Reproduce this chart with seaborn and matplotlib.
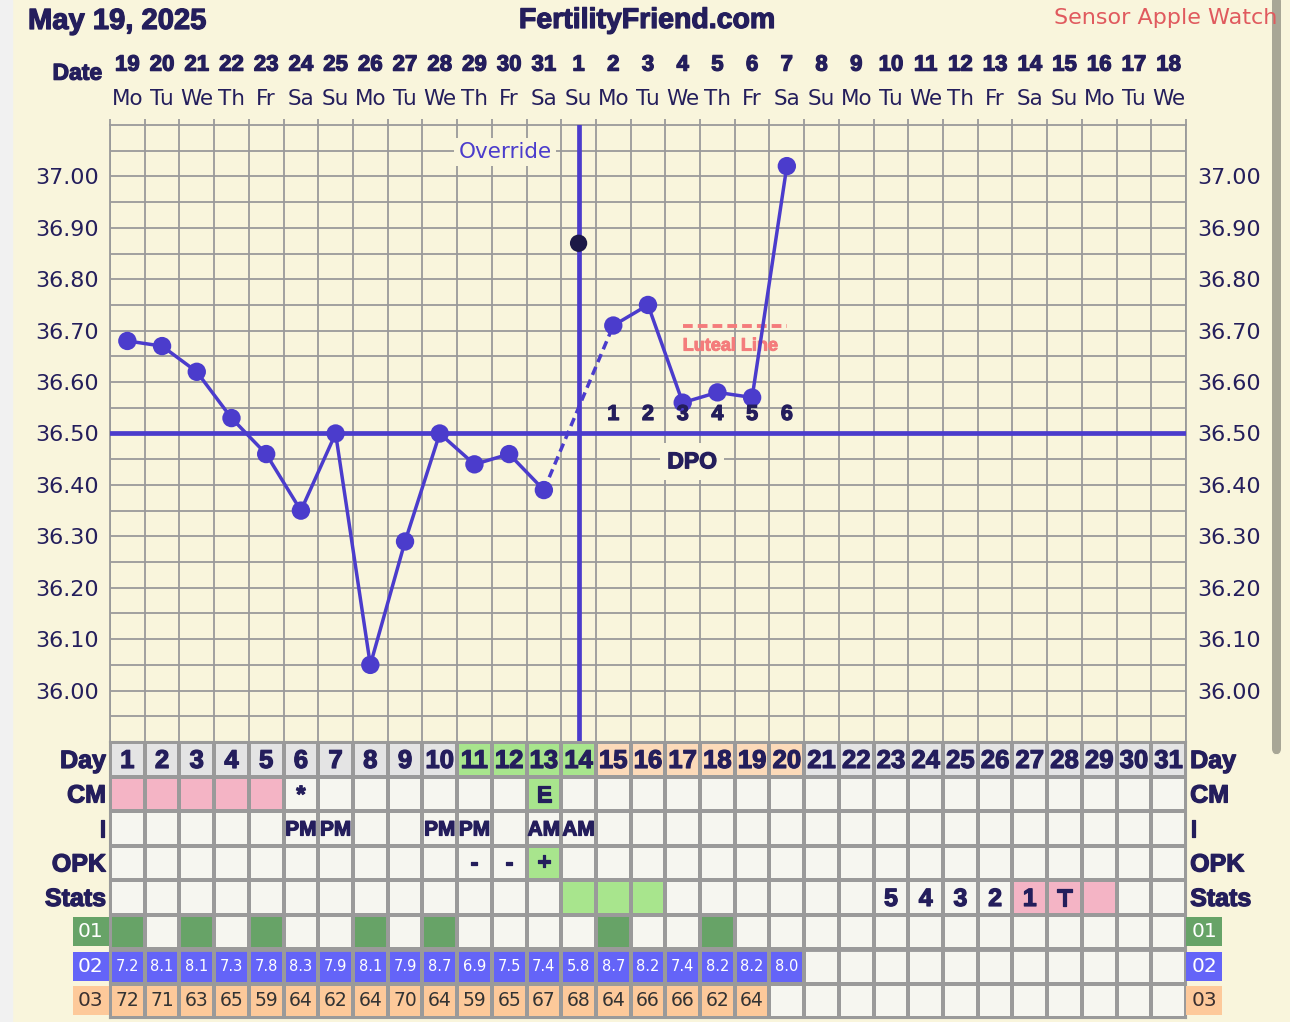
import numpy as np
import pandas as pd
import seaborn as sns
import matplotlib.pyplot as plt
import matplotlib.patheffects as pe
from matplotlib.colors import ListedColormap
from matplotlib.patches import Rectangle, FancyBboxPatch

sns.set_style("white")
plt.rcParams["font.family"] = ["DejaVu Sans"]

# ---- values ----
dates = list(range(19, 32)) + list(range(1, 19))
weekdays = ["Mo", "Tu", "We", "Th", "Fr", "Sa", "Su"] * 4 + ["Mo", "Tu", "We"]
cycle_days = list(range(1, 32))

temp_days = list(range(1, 21))
temps = [36.68, 36.67, 36.62, 36.53, 36.46, 36.35, 36.50, 36.05, 36.29, 36.50,
         36.44, 36.46, 36.39, 36.87, 36.71, 36.75, 36.56, 36.58, 36.57, 37.02]
discarded_day = 14
ovulation_day = 14
coverline = 36.50
luteal_days = [17, 20]
luteal_temp = 36.71
dpo_days = [15, 16, 17, 18, 19, 20]
dpo_labels = ["1", "2", "3", "4", "5", "6"]

# Day row shading: pre / fertile / post
day_phase = ["pre"] * 10 + ["fertile"] * 4 + ["post"] * 6 + ["pre"] * 11
cm_pink_days = [1, 2, 3, 4, 5]
cm_text = {6: "*", 13: "E"}
cm_green_days = [13]
intercourse = {6: "PM", 7: "PM", 10: "PM", 11: "PM", 13: "AM", 14: "AM"}
opk_text = {11: "-", 12: "-", 13: "+"}
opk_green_days = [13]
stats_green_days = [14, 15, 16]
stats_pink_days = [27, 28, 29]
stats_text = {23: "5", 24: "4", 25: "3", 26: "2", 27: "1", 28: "T"}
row01_days = [1, 3, 5, 8, 10, 15, 18]
row02_values = [7.2, 8.1, 8.1, 7.3, 7.8, 8.3, 7.9, 8.1, 7.9, 8.7,
                6.9, 7.5, 7.4, 5.8, 8.7, 8.2, 7.4, 8.2, 8.2, 8.0]
row03_values = [72, 71, 63, 65, 59, 64, 62, 64, 70, 64,
                59, 65, 67, 68, 64, 66, 66, 62, 64]
row_names = ["Day", "CM", "I", "OPK", "Stats"]

# ---- colours ----
CREAM = "#f9f5dc"
GRID = "#9a9a9a"
NAVY = "#241e5c"
PURPLE = "#4b3ccc"
LUTEAL = "#f47c7c"
palette = ["#f6f6f0",  # 0 blank
           "#e4e4e4",  # 1 day grey
           "#a8e58d",  # 2 green
           "#fcdab9",  # 3 day peach
           "#f4b4c5",  # 4 pink
           "#67a367",  # 5 dark green
           "#6464f8",  # 6 blue
           "#fdc99a"]  # 7 peach

W, H = 1290, 1022


def box(l, t, r, b):
    return [l / W, 1 - b / H, (r - l) / W, (b - t) / H]


def heavy(color, w=0.9):
    return [pe.withStroke(linewidth=w, foreground=color)]


fig = plt.figure(figsize=(12.9, 10.22), dpi=100)
fig.patch.set_facecolor(CREAM)
fig.add_artist(Rectangle((0, 0), 12 / W, 1, transform=fig.transFigure,
                         color="#f1f1f1", zorder=0))
fig.add_artist(FancyBboxPatch((1272 / W, 1 - 755 / H), 9 / W, 760 / H,
                              boxstyle="round,pad=0,rounding_size=0.006",
                              transform=fig.transFigure, fc="#a8a696",
                              ec="none", zorder=0))

BOLD = dict(family="Liberation Sans", weight="bold", color=NAVY,
            path_effects=heavy(NAVY))

# ---- header ----
fig.text(28 / W, 1 - 21 / H, "May 19, 2025", ha="left", va="center",
         fontsize=21, **BOLD)
fig.text(647 / W, 1 - 21 / H, "FertilityFriend.com", ha="center",
         va="center", fontsize=20.5, **BOLD)
fig.text(1277 / W, 1 - 18 / H, "Sensor Apple Watch", ha="right",
         va="center", fontsize=16, color="#e05a5e")

# ---- temperature chart ----
ax = fig.add_axes(box(110, 125, 1186, 742))
ax.set_facecolor(CREAM)

df = pd.DataFrame({"day": temp_days, "temp": temps})
kept = df[df.day != discarded_day]
pre = kept[kept.day < ovulation_day]
post = kept[kept.day > ovulation_day]
bridge = kept[kept.day.isin([ovulation_day - 1, ovulation_day + 1])]

for part in (pre, post):
    sns.lineplot(data=part, x="day", y="temp", estimator=None, color=PURPLE,
                 lw=2.5, ax=ax, zorder=4)
sns.lineplot(data=bridge, x="day", y="temp", estimator=None, color=PURPLE,
             lw=2.5, linestyle=(0, (2.5, 1.5)), ax=ax, zorder=4)
sns.scatterplot(data=kept, x="day", y="temp", color=PURPLE, s=175,
                edgecolor="none", ax=ax, zorder=5)
sns.scatterplot(data=df[df.day == discarded_day], x="day", y="temp",
                color="#1c1846", s=155, edgecolor="none", ax=ax, zorder=6)

ax.axhline(coverline, color=PURPLE, lw=3.4, zorder=3)
ax.axvline(ovulation_day, color=PURPLE, lw=3.4, zorder=3)
ax.plot(luteal_days, [luteal_temp] * 2, color=LUTEAL, lw=2.8,
        linestyle=(0, (2.5, 1.3)), zorder=3)
ax.text(luteal_days[0], luteal_temp - 0.04, "Luteal Line", ha="left",
        va="center", fontsize=13, family="Liberation Sans", weight="bold",
        color=LUTEAL, path_effects=heavy(LUTEAL, 0.7), zorder=3)

for d, lab in zip(dpo_days, dpo_labels):
    ax.text(d, coverline + 0.037, lab, ha="center", va="center",
            fontsize=15.5, zorder=6, **BOLD)
ax.text(17.27, 36.445, "DPO", ha="center", va="center", fontsize=16.5,
        zorder=6, bbox=dict(fc=CREAM, ec="none", pad=5), **BOLD)
ax.text(11.88, 37.047, "Override", ha="center", va="center", fontsize=15.5,
        color=PURPLE, zorder=6, bbox=dict(fc=CREAM, ec="none", pad=3))

ax.set_xlim(0.5, 31.5)
ax.set_ylim(35.90, 37.10)
ax.set_xticks([])
ax.set_xticks(np.arange(0.5, 32, 1), minor=True)
yt = np.round(np.arange(36.0, 37.01, 0.1), 2)
ax.set_yticks(yt)
ax.set_yticklabels([f"{v:.2f}" for v in yt])
ax.set_yticks(np.round(np.arange(35.95, 37.1, 0.05), 2), minor=True)
ax.grid(which="both", color=GRID, lw=1.3, zorder=1)
ax.set_axisbelow(True)
ax.tick_params(axis="y", which="both", length=0, labelsize=16,
               labelcolor=NAVY, labelleft=True, labelright=True, pad=8)
ax.tick_params(axis="x", which="minor", top=True, bottom=False, length=4,
               color=GRID, width=1.3)
ax.set_xlabel("")
ax.set_ylabel("")
for s in ax.spines.values():
    s.set_color(GRID)
    s.set_linewidth(1.3)

xa = ax.get_xaxis_transform()
for d, dt, wd in zip(cycle_days, dates, weekdays):
    ax.text(d, 1.097, str(dt), transform=xa, ha="center", va="center",
            fontsize=16, **BOLD)
    ax.text(d, 1.042, wd, transform=xa, ha="center", va="center",
            fontsize=15.5, color=NAVY)
ax.text(0.27, 1.084, "Date", transform=xa, ha="right", va="center",
        fontsize=16.5, **BOLD)

# ---- chart table ----
tab = fig.add_axes(box(110, 742, 1186, 1018))
n = len(cycle_days)
cells = np.zeros((8, n), dtype=int)
phase_code = {"pre": 1, "fertile": 2, "post": 3}
cells[0] = [phase_code[p] for p in day_phase]
for d in cm_pink_days:
    cells[1, d - 1] = 4
for d in cm_green_days:
    cells[1, d - 1] = 2
for d in opk_green_days:
    cells[3, d - 1] = 2
for d in stats_green_days:
    cells[4, d - 1] = 2
for d in stats_pink_days:
    cells[4, d - 1] = 4
for d in row01_days:
    cells[5, d - 1] = 5
cells[6, :len(row02_values)] = 6
cells[7, :len(row03_values)] = 7

sns.heatmap(cells, cmap=ListedColormap(palette), vmin=-0.5,
            vmax=len(palette) - 0.5, cbar=False, linewidths=1.5,
            linecolor=GRID, xticklabels=False, yticklabels=False, ax=tab)
tab.hlines(6, 0, n, color=GRID, lw=3.5)
for s in tab.spines.values():
    s.set_visible(True)
    s.set_color(GRID)
    s.set_linewidth(1.5)

for d in cycle_days:
    tab.text(d - 0.5, 0.55, str(d), ha="center", va="center", fontsize=18.5,
             **BOLD)
for d, t in cm_text.items():
    tab.text(d - 0.5, 1.55, t, ha="center", va="center", fontsize=17, **BOLD)
for d, t in intercourse.items():
    tab.text(d - 0.5, 2.55, t, ha="center", va="center", fontsize=15, **BOLD)
for d, t in opk_text.items():
    tab.text(d - 0.5, 3.5, t, ha="center", va="center", fontsize=17, **BOLD)
for d, t in stats_text.items():
    tab.text(d - 0.5, 4.55, t, ha="center", va="center", fontsize=18, **BOLD)
for i, v in enumerate(row02_values):
    tab.text(i + 0.5, 6.5, f"{v:.1f}", ha="center", va="center",
             fontsize=10.5, color="white")
for i, v in enumerate(row03_values):
    tab.text(i + 0.5, 7.5, str(v), ha="center", va="center", fontsize=13.5,
             color="#333333")

for r, name in enumerate(row_names):
    tab.text(-0.12, r + 0.55, name, ha="right", va="center", fontsize=18,
             clip_on=False, **BOLD)
    tab.text(n + 0.12, r + 0.55, name, ha="left", va="center", fontsize=18,
             clip_on=False, **BOLD)
code_rows = [("01", 5, palette[5], "white"), ("02", 6, palette[6], "white"),
             ("03", 7, palette[7], "#3a3030")]
for lab, r, fc, tc in code_rows:
    for x in (-0.55, n + 0.52):
        tab.text(x, r + 0.5, lab, ha="center", va="center", fontsize=14.5,
                 color=tc, clip_on=False,
                 bbox=dict(boxstyle="square,pad=0.25", fc=fc, ec="none"))

fig.savefig("out.png", dpi=100, facecolor=fig.get_facecolor())
plt.close(fig)
